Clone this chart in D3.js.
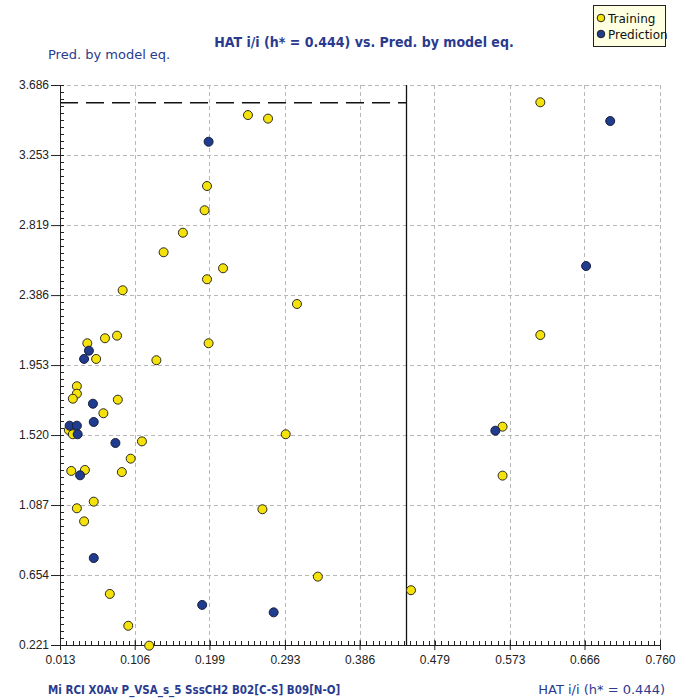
<!DOCTYPE html>
<html>
<head>
<meta charset="utf-8">
<script src="https://cdn.jsdelivr.net/npm/d3@7/dist/d3.min.js"></script>
<style>
  html, body { margin: 0; padding: 0; background: #fff; }
  svg { display: block; }
</style>
</head>
<body>
<script>
// ---- Data ----
const xTickLabels = ["0.013", "0.106", "0.199", "0.293", "0.386", "0.479", "0.573", "0.666", "0.760"];
const yTickLabels = ["0.221", "0.654", "1.087", "1.520", "1.953", "2.386", "2.819", "3.253", "3.686"];

const trainingHat = [0.247, 0.272, 0.196, 0.193, 0.166, 0.142, 0.216, 0.196, 0.091, 0.308,
                     0.084, 0.069, 0.047, 0.198, 0.058, 0.133, 0.034, 0.034, 0.029, 0.085,
                     0.067, 0.024, 0.029, 0.115, 0.294, 0.101, 0.090, 0.027, 0.044, 0.055,
                     0.034, 0.043, 0.265, 0.075, 0.334, 0.098, 0.124, 0.450, 0.611, 0.611,
                     0.564, 0.564];
const trainingPred = [3.500, 3.478, 3.061, 2.911, 2.772, 2.651, 2.552, 2.484, 2.416, 2.331,
                      2.135, 2.119, 2.088, 2.088, 1.991, 1.983, 1.822, 1.776, 1.745, 1.739,
                      1.655, 1.551, 1.525, 1.481, 1.525, 1.374, 1.291, 1.298, 1.304, 1.108,
                      1.067, 0.986, 1.061, 0.537, 0.644, 0.340, 0.217, 0.560, 3.579, 2.139,
                      1.572, 1.269];

const predictionHat = [0.198, 0.049, 0.043, 0.054, 0.055, 0.025, 0.034, 0.035, 0.082, 0.038,
                       0.055, 0.190, 0.279, 0.698, 0.668, 0.555];
const predictionPred = [3.335, 2.042, 1.991, 1.714, 1.601, 1.578, 1.578, 1.525, 1.471, 1.271,
                        0.759, 0.469, 0.423, 3.463, 2.566, 1.547];

const hStar = 0.444;
const residLimit = 3.576;

const seriesNames = ["Training", "Prediction"];
const seriesColors = ["#f5e20a", "#1f3c8f"];

const titleText = "HAT i/i (h* = 0.444) vs. Pred. by model eq.";
const yAxisTitle = "Pred. by model eq.";
const xAxisTitle = "Mi RCI X0Av P_VSA_s_5 SssCH2 B02[C-S] B09[N-O]";
const xAxisTitleRight = "HAT i/i (h* = 0.444)";

// ---- Layout ----
const W = 677, H = 700;
const mLeft = 60, mRight = 660, mTop = 85, mBottom = 645;
const blue = "#2a3b8f";
const condensed = "'DejaVu Sans Condensed', 'Liberation Sans Narrow', 'Liberation Sans', sans-serif";

const svg = d3.select("body").append("svg").attr("width", W).attr("height", H)
  .style("font-family", "Tahoma, 'DejaVu Sans', sans-serif");

const xVals = xTickLabels.map(Number);
const yVals = yTickLabels.map(Number);
const x = d3.scaleLinear().domain([xVals[0], xVals[xVals.length - 1]]).range([mLeft, mRight]);
const y = d3.scaleLinear().domain([yVals[0], yVals[yVals.length - 1]]).range([mBottom, mTop]);

// grid
const grid = svg.append("g").attr("stroke", "#b8b8b8").attr("stroke-width", 1).attr("stroke-dasharray", "4,3");
grid.selectAll(".gv").data(xVals.slice(1)).join("line")
  .attr("x1", d => Math.round(x(d)) + 0.5).attr("x2", d => Math.round(x(d)) + 0.5)
  .attr("y1", mTop).attr("y2", mBottom);
grid.selectAll(".gh").data(yVals.slice(1)).join("line")
  .attr("y1", d => Math.round(y(d)) + 0.5).attr("y2", d => Math.round(y(d)) + 0.5)
  .attr("x1", mLeft).attr("x2", mRight);

// threshold lines
svg.append("line")
  .attr("x1", Math.round(x(hStar)) + 0.5).attr("x2", Math.round(x(hStar)) + 0.5)
  .attr("y1", y(yVals[yVals.length - 1])).attr("y2", mBottom)
  .attr("stroke", "#111").attr("stroke-width", 1.3);
svg.append("line")
  .attr("x1", mLeft).attr("x2", x(hStar))
  .attr("y1", y(residLimit)).attr("y2", y(residLimit))
  .attr("stroke", "#111").attr("stroke-width", 1.5).attr("stroke-dasharray", "18,8");

// axes
const xAxis = d3.axisBottom(x).tickValues(xVals).tickFormat((d, i) => xTickLabels[i]).tickSize(5).tickPadding(5);
const gx = svg.append("g").attr("transform", `translate(0,${mBottom})`).call(xAxis);
gx.select(".domain").attr("stroke", "#222");
gx.selectAll(".tick line").attr("stroke", "#222").attr("y1", -5);
gx.selectAll(".tick text").attr("fill", "#222").style("font-size", "12px");

const yAxis = d3.axisLeft(y).tickValues(yVals).tickFormat((d, i) => yTickLabels[i]).tickSize(9).tickPadding(2);
const gy = svg.append("g").attr("transform", `translate(${mLeft},0)`).call(yAxis);
gy.select(".domain").attr("stroke", "#222");
gy.selectAll(".tick line").attr("stroke", "#222").attr("x1", 3);
gy.selectAll(".tick text").attr("fill", "#222").style("font-size", "12px");

// minor ticks
const xMinor = d3.range(0, (xVals.length - 1) * 12 + 1).map(i => x.domain()[0] + i * (x.domain()[1] - x.domain()[0]) / ((xVals.length - 1) * 12));
svg.append("g").selectAll("line").data(xMinor).join("line")
  .attr("x1", d => Math.round(x(d)) + 0.5).attr("x2", d => Math.round(x(d)) + 0.5)
  .attr("y1", mBottom).attr("y2", mBottom - 4).attr("stroke", "#222");
const yMinor = d3.range(0, (yVals.length - 1) * 10 + 1).map(i => y.domain()[0] + i * (y.domain()[1] - y.domain()[0]) / ((yVals.length - 1) * 10));
svg.append("g").selectAll("line").data(yMinor).join("line")
  .attr("y1", d => Math.round(y(d)) + 0.5).attr("y2", d => Math.round(y(d)) + 0.5)
  .attr("x1", mLeft).attr("x2", mLeft + 4).attr("stroke", "#222");

// points
const training = trainingHat.map((h, i) => ({ h, p: trainingPred[i] }));
const prediction = predictionHat.map((h, i) => ({ h, p: predictionPred[i] }));
svg.append("g").selectAll("circle").data(training).join("circle")
  .attr("cx", d => x(d.h)).attr("cy", d => y(d.p)).attr("r", 4.5)
  .attr("fill", seriesColors[0]).attr("stroke", "#2b2b20").attr("stroke-width", 1);
svg.append("g").selectAll("circle").data(prediction).join("circle")
  .attr("cx", d => x(d.h)).attr("cy", d => y(d.p)).attr("r", 4.5)
  .attr("fill", seriesColors[1]).attr("stroke", "#1a1f3a").attr("stroke-width", 1);

// titles
svg.append("text").attr("x", 364).attr("y", 47).attr("text-anchor", "middle")
  .attr("fill", blue).style("font-family", condensed)
  .style("font-size", "14px").style("font-weight", "bold").text(titleText);
svg.append("text").attr("x", 48).attr("y", 59)
  .attr("fill", blue).style("font-size", "13px").text(yAxisTitle);
svg.append("text").attr("x", 48).attr("y", 694).attr("xml:space", "preserve")
  .attr("fill", blue).style("font-family", condensed)
  .style("font-size", "11.5px").style("font-weight", "bold").text(xAxisTitle);
svg.append("text").attr("x", 665).attr("y", 694).attr("text-anchor", "end")
  .attr("fill", blue).style("font-size", "13px").text(xAxisTitleRight);

// legend
const lg = svg.append("g").attr("transform", "translate(593,5)");
lg.append("rect").attr("x", 0.5).attr("y", 0.5).attr("width", 72).attr("height", 41)
  .attr("fill", "#ffffe1").attr("stroke", "#222");
seriesNames.forEach((name, i) => {
  lg.append("circle").attr("cx", 8).attr("cy", 13 + i * 16).attr("r", 3.8)
    .attr("fill", seriesColors[i]).attr("stroke", "#222");
  lg.append("text").attr("x", 15).attr("y", 17.5 + i * 16).attr("fill", "#111")
    .style("font-size", "12px").text(name);
});
</script>
</body>
</html>
